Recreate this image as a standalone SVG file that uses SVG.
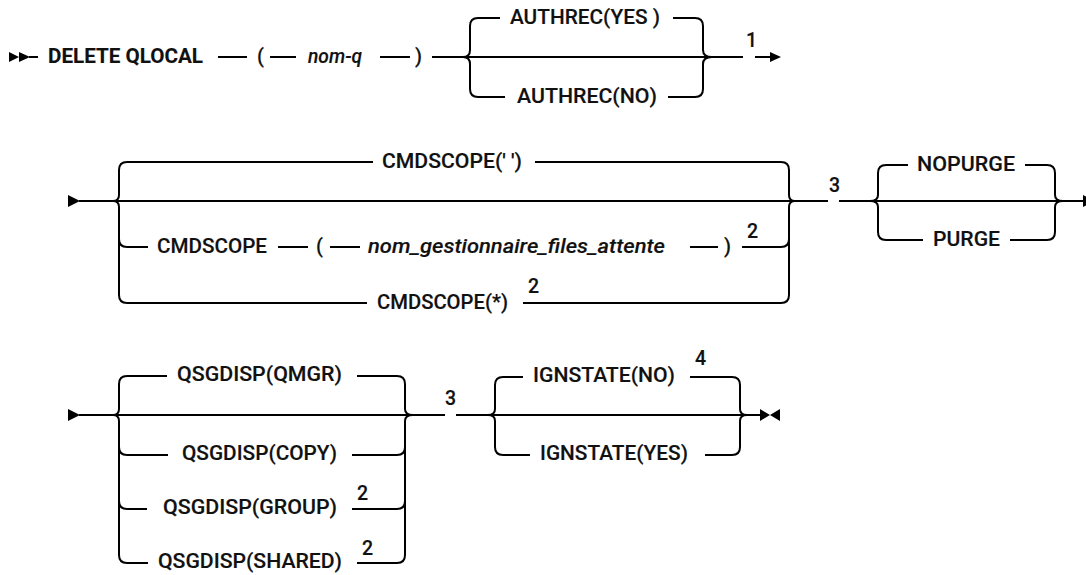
<svg xmlns="http://www.w3.org/2000/svg" width="1086" height="575" viewBox="0 0 1086 575">
<style>
.ln{fill:none;stroke:#000;stroke-width:2;stroke-linecap:butt}
.ah{fill:#000;stroke:none}
text{font-family:Roboto,"Liberation Sans",Arial,sans-serif;font-size:20px;font-weight:500;fill:#111;stroke:#111;stroke-width:0.15px}
.b{font-weight:700;stroke-width:0.1px}
.i{font-style:italic}
.n{font-size:19.5px}
</style>
<rect width="1086" height="575" fill="#fff"/>
<g id="connectors">
<!-- row 1 -->
<path class="ah" d="M9,52 L19,57 L9,62 Z M19,52 L30,57 L19,62 Z"/>
<path class="ln" d="M29,57 H38 M218,57 H247 M270,57 H296 M380,57 H410 M432,57 H743 M755,57 H772"/>
<path class="ah" d="M770,52 L781,57 L770,62 Z"/>
<path class="ln" d="M463,57 Q470,57 470,50 V26 Q470,18 478,18 H500 M463,57 Q470,57 470,64 V89 Q470,97 478,97 H505 M673,18 H695 Q703,18 703,26 V50 Q703,57 712,57 M668,97 H695 Q703,97 703,89 V64 Q703,57 712,57"/>
<!-- row 2 -->
<path class="ah" d="M68,195 L80,201 L68,207 Z"/>
<path class="ln" d="M79,201 H828 M839,201 H1084"/>
<path class="ln" d="M113,201 Q119,201 119,195 V170 Q119,162 127,162 H373 M113,201 Q119,201 119,207 V295 Q119,303 127,303 H367 M119,239 Q119,247 127,247 H148 M535,162 H781 Q789,162 789,170 V195 Q789,201 795,201 M523,303 H781 Q789,303 789,295 V207 Q789,201 795,201 M742,247 H781 Q789,247 789,239 M278,247 H308 M330,247 H360 M690,247 H718"/>
<path class="ln" d="M870,201 Q878,201 878,195 V173 Q878,165 886,165 H908 M870,201 Q878,201 878,207 V232 Q878,240 886,240 H923 M1025,165 H1047 Q1055,165 1055,173 V195 Q1055,201 1063,201 M1010,240 H1047 Q1055,240 1055,232 V207 Q1055,201 1063,201"/>
<path class="ah" d="M1083,195 L1095,201 L1083,207 Z"/>
<!-- row 3 -->
<path class="ah" d="M68,409 L80,415 L68,421 Z"/>
<path class="ln" d="M79,415 H445 M456,415 H761"/>
<path class="ln" d="M113,415 Q119,415 119,409 V384 Q119,376 127,376 H167 M113,415 Q119,415 119,421 V555 Q119,563 127,563 H148 M119,447 Q119,455 127,455 H168 M119,501 Q119,509 127,509 H147 M357,376 H397 Q405,376 405,384 V409 Q405,415 413,415 M357,563 H397 Q405,563 405,555 V421 Q405,415 413,415 M352,455 H397 Q405,455 405,447 M352,509 H397 Q405,509 405,501"/>
<path class="ln" d="M488,415 Q495,415 495,409 V385 Q495,377 503,377 H523 M488,415 Q495,415 495,421 V447 Q495,455 503,455 H530 M690,377 H732 Q740,377 740,385 V409 Q740,415 747,415 M705,455 H732 Q740,455 740,447 V421 Q740,415 747,415"/>
<path class="ah" d="M760,409 L770,415 L760,421 Z M780,409 L770,415 L780,421 Z"/>
</g>
<g id="n-delete"><text class="b" x="48" y="63" textLength="155" lengthAdjust="spacingAndGlyphs">DELETE QLOCAL</text></g>
<g id="n-lp1"><text x="257" y="63">(</text></g>
<g id="n-nomq"><text class="i" x="308" y="63" textLength="54" lengthAdjust="spacingAndGlyphs">nom-q</text></g>
<g id="n-rp1"><text x="415" y="63">)</text></g>
<g id="n-authyes"><text x="510" y="24" textLength="150" lengthAdjust="spacingAndGlyphs">AUTHREC(YES )</text></g>
<g id="n-authno"><text x="517" y="103" textLength="140" lengthAdjust="spacingAndGlyphs">AUTHREC(NO)</text></g>
<g id="n-note1"><text class="n" x="746" y="47">1</text></g>
<g id="n-cmdblank"><text x="382" y="168" textLength="140" lengthAdjust="spacingAndGlyphs">CMDSCOPE(' ')</text></g>
<g id="n-cmdscope"><text x="157" y="253" textLength="110" lengthAdjust="spacingAndGlyphs">CMDSCOPE</text></g>
<g id="n-lp2"><text x="316" y="253">(</text></g>
<g id="n-qmgrname"><text class="i" x="368" y="253" textLength="297" lengthAdjust="spacingAndGlyphs">nom_gestionnaire_files_attente</text></g>
<g id="n-rp2"><text x="724" y="253">)</text></g>
<g id="n-note2a"><text class="n" x="747" y="238">2</text></g>
<g id="n-cmdstar"><text x="377" y="309" textLength="131" lengthAdjust="spacingAndGlyphs">CMDSCOPE(*)</text></g>
<g id="n-note2b"><text class="n" x="528" y="293">2</text></g>
<g id="n-note3a"><text class="n" x="829" y="192">3</text></g>
<g id="n-nopurge"><text x="917" y="171" textLength="98" lengthAdjust="spacingAndGlyphs">NOPURGE</text></g>
<g id="n-purge"><text x="933" y="246" textLength="67" lengthAdjust="spacingAndGlyphs">PURGE</text></g>
<g id="n-qmgr"><text x="177" y="381" textLength="165" lengthAdjust="spacingAndGlyphs">QSGDISP(QMGR)</text></g>
<g id="n-copy"><text x="182" y="460" textLength="155" lengthAdjust="spacingAndGlyphs">QSGDISP(COPY)</text></g>
<g id="n-group"><text x="163" y="514" textLength="174" lengthAdjust="spacingAndGlyphs">QSGDISP(GROUP)</text></g>
<g id="n-note2c"><text class="n" x="357" y="500">2</text></g>
<g id="n-shared"><text x="158" y="568" textLength="184" lengthAdjust="spacingAndGlyphs">QSGDISP(SHARED)</text></g>
<g id="n-note2d"><text class="n" x="362" y="555">2</text></g>
<g id="n-note3b"><text class="n" x="445" y="405">3</text></g>
<g id="n-ignno"><text x="533" y="382" textLength="142" lengthAdjust="spacingAndGlyphs">IGNSTATE(NO)</text></g>
<g id="n-note4"><text class="n" x="695" y="365">4</text></g>
<g id="n-ignyes"><text x="540" y="460" textLength="148" lengthAdjust="spacingAndGlyphs">IGNSTATE(YES)</text></g>
</svg>
